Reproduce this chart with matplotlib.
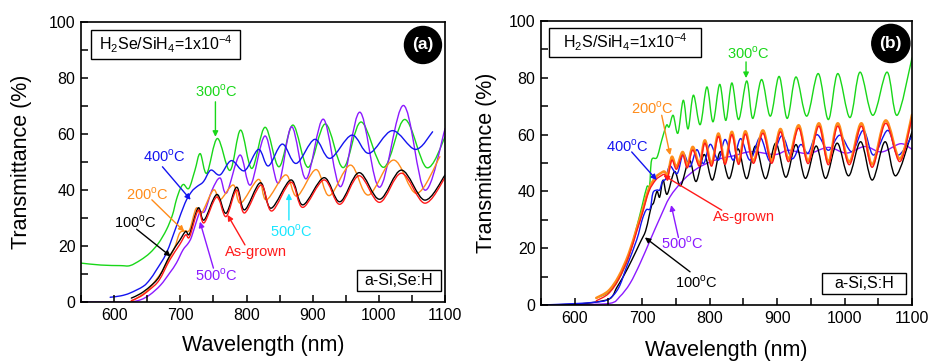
import matplotlib
matplotlib.use('Agg')
import matplotlib.pyplot as plt
from matplotlib.patches import Rectangle, PathPatch
from matplotlib.path import Path
from matplotlib.ticker import MultipleLocator

plt.rcParams['font.family'] = ['Liberation Sans', 'DejaVu Sans']
plt.rcParams['mathtext.fontset'] = 'custom'
plt.rcParams['mathtext.rm'] = 'Liberation Sans'

# ---- panel (a): a-Si,Se:H  (wavelength nm, transmittance %)
a_green_x = [550, 580, 610, 624, 640, 654, 667, 679, 688, 694, 700, 705, 713, 722, 730, 740, 756, 775, 791, 808, 828, 849, 870, 893, 919, 946, 973, 1007, 1039, 1072, 1100]
a_green_y = [13.9, 13.2, 13.0, 13.0, 15.0, 17.5, 21.0, 25.8, 31.0, 36.5, 40.5, 42.0, 40.6, 47.0, 53.0, 46.0, 58.4, 47.0, 61.4, 47.7, 62.4, 48.3, 63.2, 48.1, 63.6, 48.0, 64.3, 48.1, 65.2, 48.0, 59.0]

a_purple_x = [550, 600, 624, 640, 654, 670, 684, 694, 704, 712, 717, 725, 730, 737, 748, 760, 770, 790, 806, 828, 848, 868, 890, 916, 942, 971, 1001, 1037, 1069, 1100]
a_purple_y = [0, 0, 0, 0.8, 2.6, 6.0, 10.4, 13.9, 18.6, 21.0, 23.3, 29.3, 32.2, 32.5, 40.0, 44.3, 39.0, 52.5, 41.8, 59.3, 42.4, 62.6, 44.0, 65.3, 41.2, 67.8, 41.0, 70.2, 40.0, 62.0]

a_blue_x = [594, 610, 624, 644, 654, 664, 679, 694, 707, 717, 725, 735, 746, 760, 777, 797, 818, 833, 854, 875, 903, 926, 959, 985, 1020, 1055, 1081]
a_blue_y = [1.7, 2.2, 3.2, 5.6, 8.0, 11.5, 17.5, 27.0, 35.3, 39.4, 41.2, 43.0, 47.1, 45.4, 50.5, 46.9, 54.5, 48.6, 56.4, 49.5, 58.1, 51.3, 59.6, 53.1, 61.2, 54.5, 60.8]

a_orange_x = [624, 635, 649, 662, 674, 684, 692, 699, 707, 714, 724, 732, 750, 760, 780, 791, 818, 830, 859, 876, 905, 925, 957, 984, 1022, 1057, 1092]
a_orange_y = [0, 1.5, 3.8, 7.5, 11.5, 16.0, 19.8, 24.6, 25.4, 25.8, 33.5, 31.7, 40.0, 36.5, 41.8, 35.3, 43.8, 36.5, 45.4, 37.8, 47.3, 38.0, 48.9, 38.2, 50.7, 38.8, 51.9]

a_black_x = [626, 640, 654, 668, 684, 699, 708, 714, 727, 736, 755, 769, 785, 797, 821, 837, 867, 885, 917, 941, 970, 1001, 1034, 1069, 1100]
a_black_y = [1.4, 3.0, 5.5, 9.0, 16.5, 22.0, 25.2, 24.4, 33.6, 29.3, 38.4, 31.7, 41.0, 32.9, 42.6, 33.5, 43.6, 34.7, 44.4, 35.8, 46.2, 36.7, 47.1, 36.4, 45.4]

a_red_x = [626, 640, 654, 668, 684, 699, 708, 714, 727, 736, 755, 769, 785, 797, 822, 838, 867, 885, 917, 941, 970, 1001, 1034, 1069, 1100]
a_red_y = [0.5, 2.0, 4.5, 7.8, 15.0, 20.5, 24.0, 23.3, 32.8, 28.3, 37.5, 30.5, 40.0, 31.8, 41.8, 32.5, 42.8, 33.8, 43.6, 34.9, 45.1, 35.6, 46.0, 35.3, 44.5]

# ---- panel (b): a-Si,S:H
b_green_x = [632, 650, 665, 680, 692, 700, 707, 711, 714, 722, 729, 736, 740, 746, 753, 761, 768, 776, 786, 796, 805, 815, 824, 833, 843, 855, 864, 877, 890, 903, 915, 928, 944, 961, 976, 990, 1008, 1023, 1042, 1063, 1078, 1100]
b_green_y = [2.5, 4.5, 9.0, 17.0, 27.5, 35.0, 41.6, 42.0, 51.0, 52.0, 58.0, 63.3, 62.7, 66.8, 60.5, 72.1, 62.0, 73.9, 63.5, 76.8, 64.5, 77.7, 65.0, 78.2, 65.3, 78.9, 65.7, 79.4, 66.5, 80.5, 65.7, 80.3, 66.5, 81.5, 65.3, 81.5, 66.0, 82.0, 66.8, 82.0, 66.8, 87.0]

b_orange_x = [632, 650, 665, 680, 692, 700, 710, 720, 728, 733, 738, 744, 751, 760, 767, 775, 785, 793, 803, 813, 823, 833, 843, 853, 865, 879, 892, 905, 917, 932, 946, 962, 976, 990, 1007, 1025, 1041, 1061, 1082, 1100]
b_orange_y = [2.5, 5.0, 10.0, 18.0, 27.0, 33.0, 41.0, 45.0, 46.5, 47.0, 46.0, 52.2, 48.7, 53.9, 49.2, 55.7, 49.8, 58.0, 49.8, 60.4, 50.4, 61.0, 50.4, 61.2, 50.8, 61.5, 50.8, 62.0, 51.5, 63.3, 50.8, 64.0, 50.4, 64.0, 50.4, 64.0, 49.5, 65.0, 51.5, 67.0]

b_red_x = b_orange_x
b_red_y = [1.5, 4.0, 9.0, 17.0, 26.0, 32.0, 40.0, 44.0, 45.5, 46.0, 45.0, 51.0, 47.8, 52.8, 48.3, 54.6, 48.9, 57.0, 48.9, 59.4, 49.5, 60.0, 49.5, 60.2, 49.9, 60.5, 49.9, 61.0, 50.5, 62.3, 49.8, 63.0, 49.4, 63.0, 49.4, 63.0, 48.5, 64.0, 50.5, 66.0]

b_blue_x = [550, 600, 630, 650, 665, 677, 692, 700, 706, 712, 716, 722, 726, 730, 735, 741, 752, 761, 771, 781, 791, 801, 813, 823, 835, 846, 860, 875, 890, 907, 922, 935, 946, 959, 976, 993, 1011, 1028, 1043, 1064, 1079, 1100]
b_blue_y = [0, 0.5, 1.0, 2.0, 6.0, 13.5, 23.0, 30.0, 33.5, 34.0, 39.5, 40.5, 40.5, 43.5, 44.5, 49.0, 46.3, 53.3, 48.7, 54.7, 49.8, 56.6, 51.0, 58.3, 51.0, 58.6, 51.0, 59.0, 50.6, 59.6, 51.5, 56.5, 53.5, 60.0, 54.5, 59.8, 54.0, 61.5, 52.8, 61.5, 52.8, 59.5]

b_black_x = [550, 600, 630, 650, 657, 662, 672, 685, 697, 705, 710, 714, 717, 722, 726, 731, 737, 748, 757, 770, 780, 792, 804, 816, 829, 842, 855, 868, 883, 898, 913, 928, 942, 958, 972, 989, 1006, 1024, 1041, 1060, 1076, 1100]
b_black_y = [0, 0.3, 1.0, 2.0, 3.5, 6.0, 10.0, 16.0, 22.0, 26.0, 31.0, 35.0, 36.0, 40.0, 38.0, 44.0, 39.0, 47.0, 42.0, 51.0, 43.5, 53.0, 44.0, 54.0, 44.5, 55.0, 44.5, 56.0, 44.5, 57.0, 45.0, 56.5, 44.6, 56.0, 44.6, 57.0, 45.5, 57.5, 44.0, 57.5, 45.5, 61.0]

b_purple_x = [550, 600, 652, 667, 682, 697, 712, 727, 741, 761, 781, 801, 820, 835, 862, 897, 917, 946, 976, 1003, 1030, 1055, 1083, 1100]
b_purple_y = [0, 0.2, 0.6, 3.0, 7.6, 14.7, 22.9, 31.0, 38.0, 44.0, 48.0, 50.4, 51.8, 52.5, 54.0, 53.0, 54.5, 53.3, 55.5, 53.5, 55.8, 53.9, 56.8, 54.8]

GREEN = '#19d719'
BLUE = '#1414f0'
ORANGE = '#ff8c1a'
RED = '#ff1a1a'
PURPLE = '#8c1aff'
CYAN = '#1ae6ff'

DEG = '$^{\\mathrm{o}}$C'


def curve(ax, xs, ys, color, lw=1.0):
    # smooth Bezier path through the read points (Catmull-Rom tangents)
    pts = list(zip(xs, ys))
    n = len(pts)
    verts = [pts[0]]
    codes = [Path.MOVETO]
    for i in range(n - 1):
        p0 = pts[max(i - 1, 0)]
        p1 = pts[i]
        p2 = pts[i + 1]
        p3 = pts[min(i + 2, n - 1)]
        c1 = (p1[0] + (p2[0] - p0[0]) / 6, p1[1] + (p2[1] - p0[1]) / 6)
        c2 = (p2[0] - (p3[0] - p1[0]) / 6, p2[1] - (p3[1] - p1[1]) / 6)
        verts += [c1, c2, p2]
        codes += [Path.CURVE4] * 3
    ax.add_patch(PathPatch(Path(verts, codes), fill=False, ec=color, lw=lw,
                           capstyle='round', joinstyle='round'))


def note(ax, text, txy, start, tip, color):
    ax.annotate('', xy=tip, xytext=start,
                arrowprops=dict(arrowstyle='-|>', color=color, lw=1.0,
                                mutation_scale=8, shrinkA=0, shrinkB=0))
    ax.text(txy[0], txy[1], text, color=color, fontsize=10.5,
            ha='center', va='center')


def style(ax, ylabel, xlab_y, ylab_x):
    ax.set_xlim(550, 1100)
    ax.set_ylim(0, 100)
    ax.xaxis.set_major_locator(MultipleLocator(100))
    ax.xaxis.set_minor_locator(MultipleLocator(50))
    ax.yaxis.set_major_locator(MultipleLocator(20))
    ax.yaxis.set_minor_locator(MultipleLocator(10))
    ax.tick_params(which='both', direction='in', length=5, width=1.1,
                   labelsize=11.5, pad=4, top=False, right=False)
    for s in ax.spines.values():
        s.set_linewidth(1.2)
    ax.set_xlabel('Wavelength (nm)', fontsize=15.5)
    ax.set_ylabel(ylabel, fontsize=15.5)
    ax.xaxis.set_label_coords(0.5, xlab_y)
    ax.yaxis.set_label_coords(ylab_x, 0.5)


def boxed(ax, x0, y0, w, h, text, fs=11.5):
    ax.add_patch(Rectangle((x0, y0), w, h, transform=ax.transAxes,
                           fill=False, ec='k', lw=1.0, zorder=5))
    ax.text(x0 + w / 2, y0 + h / 2, text, transform=ax.transAxes,
            fontsize=fs, ha='center', va='center', zorder=6)


fig = plt.figure(figsize=(9.29, 3.61), dpi=100)
axa = fig.add_axes([0.0872, 0.1634, 0.392, 0.7756])
axb = fig.add_axes([0.5823, 0.155, 0.3994, 0.7868])

curve(axa, a_green_x, a_green_y, GREEN)
curve(axa, a_purple_x, a_purple_y, PURPLE)
curve(axa, a_blue_x, a_blue_y, BLUE)
curve(axa, a_orange_x, a_orange_y, ORANGE)
curve(axa, a_black_x, a_black_y, 'k')
curve(axa, a_red_x, a_red_y, RED)

style(axa, 'Transmittance (%)', -0.118, -0.135)
note(axa, '300' + DEG, (755, 75.4), (753, 71.5), (753, 59), GREEN)
note(axa, '400' + DEG, (676, 52.1), (673, 48.3), (715.6, 36.5), BLUE)
note(axa, '200' + DEG, (650, 38.5), (657, 36.5), (706, 25.2), ORANGE)
note(axa, '100' + DEG, (632.5, 28.4), (634, 26), (685.4, 16.3), 'k')
note(axa, '500' + DEG, (754, 9.4), (750, 12.1), (729.6, 28.7), PURPLE)
note(axa, 'As-grown', (814, 18), (797.6, 20.4), (771.4, 31.1), RED)
note(axa, '500' + DEG, (868, 25.4), (864, 29.3), (864, 38.8), CYAN)
boxed(axa, 0.0266, 0.867, 0.41, 0.105, 'H$_2$Se/SiH$_4$=1x10$^{-4}$')
boxed(axa, 0.759, 0.040, 0.229, 0.076, 'a-Si,Se:H')
axa.text(0.939, 0.918, '(a)', transform=axa.transAxes, color='w',
         fontsize=12.5, fontweight='bold', ha='center', va='center',
         bbox=dict(boxstyle='circle,pad=0.45', fc='k', ec='k'))

curve(axb, b_purple_x, b_purple_y, PURPLE)
curve(axb, b_black_x, b_black_y, 'k')
curve(axb, b_green_x, b_green_y, GREEN)
curve(axb, b_blue_x, b_blue_y, BLUE)
curve(axb, b_orange_x, b_orange_y, ORANGE, lw=1.8)
curve(axb, b_red_x, b_red_y, RED)

style(axb, 'Transmittamce (%)', -0.123, -0.119)
note(axb, '300' + DEG, (857.6, 88.5), (854, 85.6), (854, 79.9), GREEN)
note(axb, '200' + DEG, (715.7, 69.2), (729, 66.8), (741.4, 52.8), ORANGE)
note(axb, '400' + DEG, (678.6, 56), (684.5, 53.9), (721.6, 44), BLUE)
note(axb, 'As-grown', (851, 31), (818, 33.4), (731.5, 45.7), RED)
note(axb, '500' + DEG, (759.7, 21.7), (753.8, 23.8), (743, 35.2), PURPLE)
note(axb, '100' + DEG, (781, 8.2), (771, 11.7), (704, 23.8), 'k')
boxed(axb, 0.0224, 0.874, 0.409, 0.102, 'H$_2$S/SiH$_4$=1x10$^{-4}$')
boxed(axb, 0.757, 0.0377, 0.227, 0.076, 'a-Si,S:H')
axb.text(0.943, 0.921, '(b)', transform=axb.transAxes, color='w',
         fontsize=12.5, fontweight='bold', ha='center', va='center',
         bbox=dict(boxstyle='circle,pad=0.45', fc='k', ec='k'))

fig.savefig('out.png', dpi=100)
